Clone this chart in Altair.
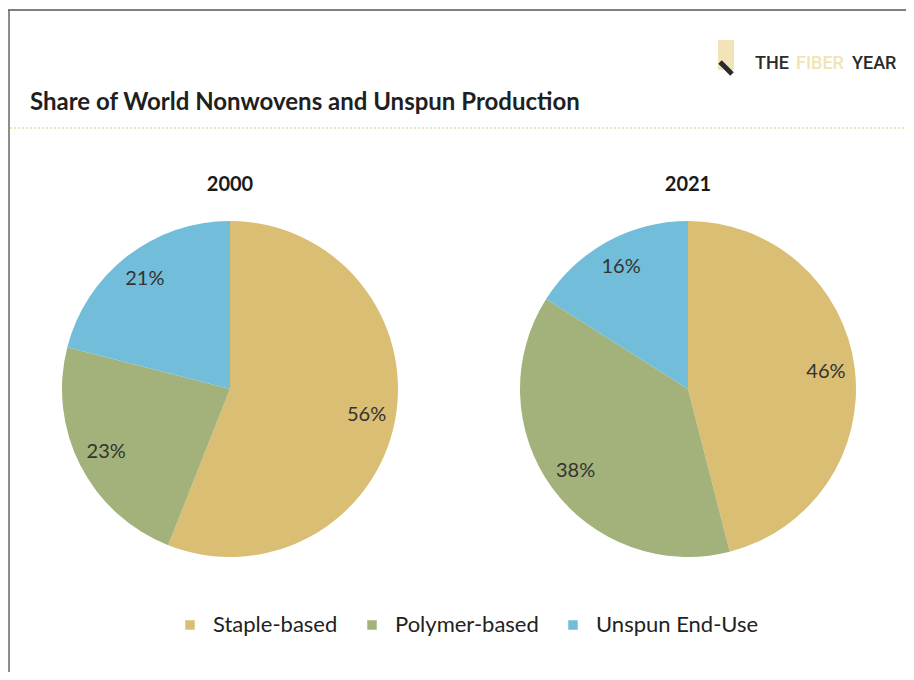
import altair as alt
import pandas as pd

# ---- data ----
years = ["2000", "2021"]
categories = ["Staple-based", "Polymer-based", "Unspun End-Use"]
shares_2000 = [56, 23, 21]
shares_2021 = [46, 38, 16]
colors = ["#D9BE74", "#A2B27A", "#72BDDA"]

title_text = "Share of World Nonwovens and Unspun Production"

rows = []
for yr, vals in zip(years, [shares_2000, shares_2021]):
    for i, (cat, v) in enumerate(zip(categories, vals)):
        rows.append({"year": yr, "category": cat, "share": v, "order": i, "label": f"{v}%"})
df = pd.DataFrame(rows)
years_df = pd.DataFrame({"year": years})

FONT = "Lato"

x_scale = alt.Scale(type="point", domain=years, range=[222, 680], padding=0)
theta_scale = alt.Scale(domain=[0, 100], range=[0, 6.283185307179586])

base = (
    alt.Chart(df)
    .transform_stack(stack="share", groupby=["year"], as_=["s0", "s1"],
                     sort=[alt.SortField("order", order="ascending")])
    .transform_calculate(mid="(datum.s0 + datum.s1) / 2")
)

pies = base.mark_arc(outerRadius=168).encode(
    x=alt.X("year:N", scale=x_scale, axis=None),
    y=alt.value(381),
    theta=alt.Theta("s0:Q", scale=theta_scale),
    theta2="s1:Q",
    color=alt.Color(
        "category:N",
        scale=alt.Scale(domain=categories, range=colors),
        legend=alt.Legend(
            title=None,
            orient="none",
            direction="horizontal",
            legendX=171,
            legendY=606,
            symbolType="square",
            symbolSize=90,
            symbolStrokeWidth=0,
            symbolOpacity=1,
            labelFont=FONT,
            labelFontSize=22,
            labelColor="#222222",
            labelOffset=12,
            labelLimit=400,
            columnPadding=23,
        ),
    ),
)

labels = base.mark_text(radius=139, font=FONT, fontSize=20, color="#333333").encode(
    x=alt.X("year:N", scale=x_scale, axis=None),
    y=alt.value(381),
    theta=alt.Theta("mid:Q", scale=theta_scale),
    text="label:N",
)

year_titles = alt.Chart(years_df).mark_text(
    font=FONT, fontSize=20, fontWeight="bold", color="#1a1a1a", baseline="middle"
).encode(
    x=alt.X("year:N", scale=x_scale, axis=None),
    y=alt.value(177),
    text="year:N",
)

title = alt.Chart(pd.DataFrame({"t": [title_text]})).mark_text(
    font=FONT, fontSize=24, fontWeight="bold", color="#1f1f1f",
    align="left", baseline="alphabetic"
).encode(x=alt.value(22), y=alt.value(102), text="t:N")

dotted = alt.Chart(pd.DataFrame({"a": [0]})).mark_rule(
    color="#E6E2A6", strokeWidth=1.5, strokeDash=[2, 2]
).encode(x=alt.value(2), x2=alt.value(897), y=alt.value(120))

frame_top = alt.Chart(pd.DataFrame({"a": [0]})).mark_rule(
    color="#555555", strokeWidth=1.5
).encode(x=alt.value(0), x2=alt.value(898), y=alt.value(2))

frame_left = alt.Chart(pd.DataFrame({"a": [0]})).mark_rule(
    color="#666666", strokeWidth=1.5
).encode(x=alt.value(1), y=alt.value(2), y2=alt.value(664))

logo_the = alt.Chart(pd.DataFrame({"t": ["THE"]})).mark_text(
    font="Roboto", fontSize=18, fontWeight=500, color="#2a2a2a", align="left"
).encode(x=alt.value(747), y=alt.value(56), text="t:N")
logo_fiber = alt.Chart(pd.DataFrame({"t": ["FIBER"]})).mark_text(
    font="Roboto", fontSize=18, fontWeight=500, color="#F1E4B4", align="left"
).encode(x=alt.value(788), y=alt.value(56), text="t:N")
logo_year = alt.Chart(pd.DataFrame({"t": ["YEAR"]})).mark_text(
    font="Roboto", fontSize=18, fontWeight=500, color="#2a2a2a", align="left"
).encode(x=alt.value(844), y=alt.value(56), text="t:N")
icon_light = alt.Chart(pd.DataFrame({"a": [0]})).mark_rect(color="#F3E3B8").encode(
    x=alt.value(710), x2=alt.value(726), y=alt.value(32), y2=alt.value(62)
)
icon_dark = alt.Chart(pd.DataFrame({"a": [0]})).mark_rule(
    color="#2a2a2a", strokeWidth=5
).encode(x=alt.value(712), x2=alt.value(724), y=alt.value(54), y2=alt.value(66))

chart = alt.layer(
    frame_top, frame_left, title, dotted, icon_light, icon_dark,
    logo_the, logo_fiber, logo_year, pies, labels, year_titles,
).properties(
    width=898, height=664, padding=0, autosize=alt.AutoSizeParams(type="none"),
    background="white",
).configure_view(stroke=None)

chart.save("out.html", embed_options={"renderer": "svg", "actions": False})
